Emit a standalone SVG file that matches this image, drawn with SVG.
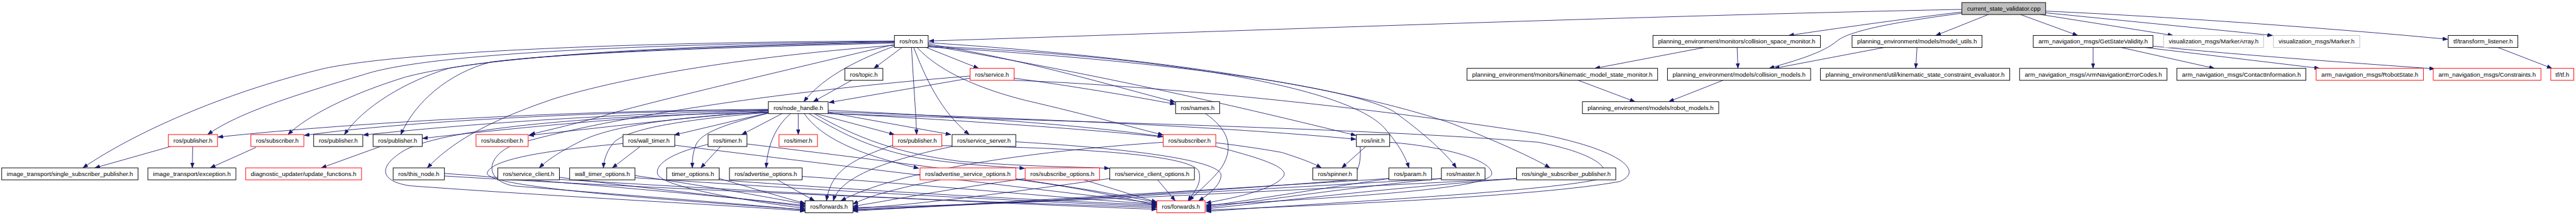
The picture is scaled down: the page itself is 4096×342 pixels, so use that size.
<svg xmlns="http://www.w3.org/2000/svg" width="4096" height="342" viewBox="0 0 4096 342">
<style>
.node rect{fill:#ffffff;stroke:#000000;stroke-width:1.4}
.node.red rect{stroke:#ff0000}
.node.gray rect{stroke:#bfbfbf}
.node.root rect{fill:#bfbfbf}
.node text{font-family:"Liberation Sans",Arial,sans-serif;font-size:14.5px;fill:#000000;text-anchor:middle}
#edges path{fill:none;stroke:#191970;stroke-width:1.25;marker-end:url(#arr)}
</style>
<defs>
<marker id="arr" markerUnits="userSpaceOnUse" viewBox="0 0 12 9" refX="12" refY="4.5" markerWidth="12" markerHeight="9" orient="auto">
<path d="M0,0 L12,4.5 L0,9 z" fill="#191970" stroke="#191970" stroke-width="0.8"/>
</marker>
</defs>
<rect width="4096" height="342" fill="#ffffff"/>
<g transform="scale(0.67949)">
<g id="edges">
<path d="M4591,22 C3800,38 2800,76 2174,96"/>
<path d="M4591,28 C4450,45 4300,66 4186,83"/>
<path d="M4591,31 C4430,52 4330,72 4300,95 C4265,125 4200,142 4140,160"/>
<path d="M4653,34 L4530,83"/>
<path d="M4728,34 L4862,83"/>
<path d="M4775,34 L5085,83"/>
<path d="M4787,30 L5318,83"/>
<path d="M4787,26 C5100,40 5500,70 5728,92"/>
<path d="M3989,111 L3732,160"/>
<path d="M4065,111 L4067,160"/>
<path d="M4410,111 L4152,160"/>
<path d="M4486,111 L4483,160"/>
<path d="M3693,188 L3826,238"/>
<path d="M4032,188 L3905,238"/>
<path d="M4898,111 L4898,160"/>
<path d="M4963,111 L5182,160"/>
<path d="M5018,111 L5428,160"/>
<path d="M5038,108 C5200,125 5400,140 5697,161"/>
<path d="M5845,111 L5972,160"/>
<path d="M2111,111 L2045,160"/>
<path d="M2093,108 C2020,135 1930,175 1881,238"/>
<path d="M2167,111 L2290,160"/>
<path d="M2133,111 C2138,200 2143,260 2145,315"/>
<path d="M2138,111 C2165,180 2200,260 2268,315"/>
<path d="M2172,103 C2400,140 2600,200 2750,239"/>
<path d="M2172,106 C2600,180 2900,250 3173,317"/>
<path d="M2172,108 C2700,130 3150,200 3240,300 C3275,340 3290,370 3297,393"/>
<path d="M2172,110 C2700,140 3150,200 3260,260 C3330,310 3385,360 3408,393"/>
<path d="M2172,100 C2800,140 3200,220 3400,290 C3500,330 3590,370 3627,393"/>
<path d="M2146,111 C2200,170 2300,210 2400,235 C2550,270 2650,298 2722,316"/>
<path d="M2093,106 C1800,128 1500,170 1300,230 C1150,280 1060,330 1000,393"/>
<path d="M2093,104 C1900,150 1600,220 1450,260 C1350,290 1280,305 1240,315"/>
<path d="M2093,101 C1700,110 1300,125 1150,145 C1050,170 970,240 938,315"/>
<path d="M2093,99 C1700,108 1250,123 1050,160 C950,190 850,250 806,315"/>
<path d="M2093,98 C1600,106 1150,128 950,180 C820,220 720,270 674,315"/>
<path d="M2093,97 C1500,103 1000,125 850,175 C700,220 560,262 486,315"/>
<path d="M2093,96 C1500,98 950,120 760,160 C550,210 330,300 194,393"/>
<path d="M1993,188 L1903,238"/>
<path d="M2270,183 L1940,240"/>
<path d="M2373,183 C2500,200 2650,225 2750,244"/>
<path d="M2270,178 C1800,215 1400,280 1200,340 C1140,365 1130,420 1200,435 C1500,460 1750,478 1884,492"/>
<path d="M2373,188 C2700,200 3200,250 3600,313 C3790,350 3850,400 3790,425 C3600,460 3100,480 2822,492"/>
<path d="M1868,266 L1868,315"/>
<path d="M1909,266 L2093,315"/>
<path d="M1938,263 L2225,315"/>
<path d="M1882,266 C1920,320 2000,360 2150,394"/>
<path d="M1893,266 C1980,320 2050,350 2150,370 C2250,385 2330,390 2398,394"/>
<path d="M1905,266 C2000,320 2100,360 2250,378 C2400,390 2500,390 2596,394"/>
<path d="M1938,258 C2300,275 2550,295 2721,320"/>
<path d="M1938,262 C2500,280 2900,300 3173,326"/>
<path d="M1938,265 C2400,290 2800,320 3000,357 C3040,370 3070,380 3092,393"/>
<path d="M1850,266 C1810,300 1795,350 1793,393"/>
<path d="M1830,266 L1736,315"/>
<path d="M1798,264 L1578,316"/>
<path d="M1798,265 C1700,290 1640,310 1628,340 C1620,360 1620,380 1620,393"/>
<path d="M1798,263 C1600,280 1480,300 1440,330 C1420,350 1413,375 1412,393"/>
<path d="M1798,262 C1550,275 1420,300 1360,330 C1310,355 1280,375 1262,393"/>
<path d="M1798,260 C1600,275 1400,300 1237,317"/>
<path d="M1798,259 C1500,270 1200,300 989,324"/>
<path d="M1798,258 C1400,268 1100,290 850,316"/>
<path d="M1798,257 C1300,263 900,290 712,317"/>
<path d="M1798,256 C1200,260 700,300 510,321"/>
<path d="M1798,264 C1400,268 1050,300 950,350 C880,390 890,425 960,435 C1300,460 1700,480 1884,494"/>
<path d="M1938,266 C2500,285 3200,300 3600,333 C3740,360 3780,400 3740,420 C3600,450 3100,475 2822,495"/>
<path d="M399,343 L222,393"/>
<path d="M451,343 L450,393"/>
<path d="M599,345 L492,393"/>
<path d="M890,343 L752,393"/>
<path d="M1498,343 L1433,393"/>
<path d="M1686,343 L1640,393"/>
<path d="M3196,343 L3140,393"/>
<path d="M1040,406 C1300,425 1650,455 1884,481"/>
<path d="M1309,415 C1500,440 1750,465 1884,484"/>
<path d="M1486,411 C1650,435 1800,462 1884,478"/>
<path d="M1683,418 C1760,440 1840,465 1884,476"/>
<path d="M1819,421 L1906,470"/>
<path d="M1657,338 C1560,360 1530,390 1540,410 C1560,440 1750,470 1884,488"/>
<path d="M1458,336 C1300,350 1150,370 1140,405 C1135,440 1600,470 1884,491"/>
<path d="M2089,340 C1990,375 1945,400 1934,470"/>
<path d="M2228,343 C2050,380 1965,420 1950,470"/>
<path d="M2722,333 C2400,355 2100,400 1968,470"/>
<path d="M2200,421 C2100,440 2030,460 1996,478"/>
<path d="M2400,418 C2200,445 2080,470 1996,483"/>
<path d="M2597,418 C2400,445 2150,480 1996,488"/>
<path d="M3183,343 C3185,380 3180,410 3150,422 C2800,450 2300,480 1996,492"/>
<path d="M3250,418 C2900,440 2400,470 1996,494"/>
<path d="M3373,418 C3000,440 2400,475 1996,490"/>
<path d="M3549,418 C3100,440 2500,475 1996,486"/>
<path d="M1040,412 C1500,440 2200,470 2707,486"/>
<path d="M1309,420 C1800,450 2300,475 2707,490"/>
<path d="M1486,416 C1900,445 2400,472 2707,483"/>
<path d="M1683,421 C2000,445 2400,468 2707,480"/>
<path d="M1877,413 C2200,435 2500,465 2707,478"/>
<path d="M1579,340 C1900,380 2400,440 2707,476"/>
<path d="M1748,337 C2100,380 2500,430 2707,474"/>
<path d="M2204,341 C2500,345 2780,360 2805,400 C2815,430 2790,455 2780,470"/>
<path d="M2377,332 C2600,345 2840,370 2857,407 C2860,430 2830,455 2805,470"/>
<path d="M2377,420 C2500,435 2620,460 2707,481"/>
<path d="M2536,421 C2600,440 2660,460 2707,473"/>
<path d="M2709,421 L2750,470"/>
<path d="M2821,266 C2870,300 2890,340 2860,390 C2840,420 2800,450 2783,470"/>
<path d="M2845,343 C2950,370 3010,390 3005,410 C2990,440 2900,462 2822,475"/>
<path d="M3252,333 C3400,345 3500,380 3490,410 C3470,440 3200,460 2822,480"/>
<path d="M3250,418 C3100,440 2950,465 2822,483"/>
<path d="M3373,418 C3150,440 2950,470 2822,486"/>
<path d="M3549,418 C3250,440 3000,470 2822,489"/>
</g>
<g id="n_cpp" class="node root"><rect x="4591" y="6" width="196" height="28"/><text x="4689" y="25" textLength="172" lengthAdjust="spacingAndGlyphs">current_state_validator.cpp</text></g>
<g id="n_ros" class="node"><rect x="2093" y="83" width="79" height="28"/><text x="2132.5" y="102" textLength="55" lengthAdjust="spacingAndGlyphs">ros/ros.h</text></g>
<g id="n_csm" class="node"><rect x="3868" y="83" width="392" height="28"/><text x="4064" y="102" textLength="368" lengthAdjust="spacingAndGlyphs">planning_environment/monitors/collision_space_monitor.h</text></g>
<g id="n_mu" class="node"><rect x="4334" y="83" width="304" height="28"/><text x="4486" y="102" textLength="280" lengthAdjust="spacingAndGlyphs">planning_environment/models/model_utils.h</text></g>
<g id="n_gsv" class="node"><rect x="4758" y="83" width="280" height="28"/><text x="4898" y="102" textLength="256" lengthAdjust="spacingAndGlyphs">arm_navigation_msgs/GetStateValidity.h</text></g>
<g id="n_ma" class="node gray"><rect x="5063" y="83" width="234" height="28"/><text x="5180" y="102" textLength="210" lengthAdjust="spacingAndGlyphs">visualization_msgs/MarkerArray.h</text></g>
<g id="n_mk" class="node gray"><rect x="5320" y="83" width="202" height="28"/><text x="5421" y="102" textLength="178" lengthAdjust="spacingAndGlyphs">visualization_msgs/Marker.h</text></g>
<g id="n_tfl" class="node"><rect x="5729" y="83" width="163" height="28"/><text x="5810.5" y="102" textLength="139" lengthAdjust="spacingAndGlyphs">tf/transform_listener.h</text></g>
<g id="n_topic" class="node"><rect x="1977" y="160" width="89" height="28"/><text x="2021.5" y="179" textLength="65" lengthAdjust="spacingAndGlyphs">ros/topic.h</text></g>
<g id="n_service" class="node red"><rect x="2270" y="160" width="103" height="28"/><text x="2321.5" y="179" textLength="79" lengthAdjust="spacingAndGlyphs">ros/service.h</text></g>
<g id="n_kmsm" class="node"><rect x="3433" y="160" width="446" height="28"/><text x="3656" y="179" textLength="422" lengthAdjust="spacingAndGlyphs">planning_environment/monitors/kinematic_model_state_monitor.h</text></g>
<g id="n_cm" class="node"><rect x="3902" y="160" width="335" height="28"/><text x="4069.5" y="179" textLength="311" lengthAdjust="spacingAndGlyphs">planning_environment/models/collision_models.h</text></g>
<g id="n_ksce" class="node"><rect x="4260" y="160" width="443" height="28"/><text x="4481.5" y="179" textLength="419" lengthAdjust="spacingAndGlyphs">planning_environment/util/kinematic_state_constraint_evaluator.h</text></g>
<g id="n_anec" class="node"><rect x="4726" y="160" width="345" height="28"/><text x="4898.5" y="179" textLength="321" lengthAdjust="spacingAndGlyphs">arm_navigation_msgs/ArmNavigationErrorCodes.h</text></g>
<g id="n_ci" class="node"><rect x="5094" y="160" width="302" height="28"/><text x="5245" y="179" textLength="278" lengthAdjust="spacingAndGlyphs">arm_navigation_msgs/ContactInformation.h</text></g>
<g id="n_rs" class="node red"><rect x="5420" y="160" width="251" height="28"/><text x="5545.5" y="179" textLength="227" lengthAdjust="spacingAndGlyphs">arm_navigation_msgs/RobotState.h</text></g>
<g id="n_con" class="node red"><rect x="5694" y="160" width="252" height="28"/><text x="5820" y="179" textLength="228" lengthAdjust="spacingAndGlyphs">arm_navigation_msgs/Constraints.h</text></g>
<g id="n_tf" class="node red"><rect x="5969" y="160" width="54" height="28"/><text x="5996" y="179" textLength="32" lengthAdjust="spacingAndGlyphs">tf/tf.h</text></g>
<g id="n_nh" class="node"><rect x="1798" y="238" width="140" height="28"/><text x="1868" y="257" textLength="116" lengthAdjust="spacingAndGlyphs">ros/node_handle.h</text></g>
<g id="n_names" class="node"><rect x="2751" y="238" width="103" height="28"/><text x="2802.5" y="257" textLength="79" lengthAdjust="spacingAndGlyphs">ros/names.h</text></g>
<g id="n_rm" class="node"><rect x="3703" y="238" width="319" height="28"/><text x="3862.5" y="257" textLength="295" lengthAdjust="spacingAndGlyphs">planning_environment/models/robot_models.h</text></g>
<g id="n_pub1" class="node red"><rect x="394" y="315" width="115" height="28"/><text x="451.5" y="334" textLength="91" lengthAdjust="spacingAndGlyphs">ros/publisher.h</text></g>
<g id="n_sub1" class="node red"><rect x="587" y="315" width="124" height="28"/><text x="649" y="334" textLength="100" lengthAdjust="spacingAndGlyphs">ros/subscriber.h</text></g>
<g id="n_pub2" class="node"><rect x="734" y="315" width="115" height="28"/><text x="791.5" y="334" textLength="91" lengthAdjust="spacingAndGlyphs">ros/publisher.h</text></g>
<g id="n_pub3" class="node"><rect x="873" y="315" width="115" height="28"/><text x="930.5" y="334" textLength="91" lengthAdjust="spacingAndGlyphs">ros/publisher.h</text></g>
<g id="n_sub2" class="node red"><rect x="1114" y="315" width="122" height="28"/><text x="1175" y="334" textLength="98" lengthAdjust="spacingAndGlyphs">ros/subscriber.h</text></g>
<g id="n_wt" class="node"><rect x="1458" y="315" width="121" height="28"/><text x="1518.5" y="334" textLength="97" lengthAdjust="spacingAndGlyphs">ros/wall_timer.h</text></g>
<g id="n_timer" class="node"><rect x="1657" y="315" width="91" height="28"/><text x="1702.5" y="334" textLength="67" lengthAdjust="spacingAndGlyphs">ros/timer.h</text></g>
<g id="n_timer2" class="node red"><rect x="1823" y="315" width="90" height="28"/><text x="1868" y="334" textLength="66" lengthAdjust="spacingAndGlyphs">ros/timer.h</text></g>
<g id="n_pub4" class="node red"><rect x="2089" y="315" width="115" height="28"/><text x="2146.5" y="334" textLength="91" lengthAdjust="spacingAndGlyphs">ros/publisher.h</text></g>
<g id="n_ss" class="node"><rect x="2228" y="315" width="149" height="28"/><text x="2302.5" y="334" textLength="125" lengthAdjust="spacingAndGlyphs">ros/service_server.h</text></g>
<g id="n_sub3" class="node red"><rect x="2722" y="315" width="123" height="28"/><text x="2783.5" y="334" textLength="99" lengthAdjust="spacingAndGlyphs">ros/subscriber.h</text></g>
<g id="n_init" class="node"><rect x="3174" y="315" width="78" height="28"/><text x="3213" y="334" textLength="54" lengthAdjust="spacingAndGlyphs">ros/init.h</text></g>
<g id="n_itssp" class="node"><rect x="4" y="393" width="319" height="28"/><text x="163.5" y="412" textLength="295" lengthAdjust="spacingAndGlyphs">image_transport/single_subscriber_publisher.h</text></g>
<g id="n_itexc" class="node"><rect x="346" y="393" width="206" height="28"/><text x="449" y="412" textLength="182" lengthAdjust="spacingAndGlyphs">image_transport/exception.h</text></g>
<g id="n_diag" class="node red"><rect x="575" y="393" width="271" height="28"/><text x="710.5" y="412" textLength="247" lengthAdjust="spacingAndGlyphs">diagnostic_updater/update_functions.h</text></g>
<g id="n_tn" class="node"><rect x="920" y="393" width="120" height="28"/><text x="980" y="412" textLength="96" lengthAdjust="spacingAndGlyphs">ros/this_node.h</text></g>
<g id="n_sc" class="node"><rect x="1165" y="393" width="144" height="28"/><text x="1237" y="412" textLength="120" lengthAdjust="spacingAndGlyphs">ros/service_client.h</text></g>
<g id="n_wto" class="node"><rect x="1333" y="393" width="153" height="28"/><text x="1409.5" y="412" textLength="129" lengthAdjust="spacingAndGlyphs">wall_timer_options.h</text></g>
<g id="n_to" class="node"><rect x="1560" y="393" width="123" height="28"/><text x="1621.5" y="412" textLength="99" lengthAdjust="spacingAndGlyphs">timer_options.h</text></g>
<g id="n_ao" class="node"><rect x="1707" y="393" width="170" height="28"/><text x="1792" y="412" textLength="146" lengthAdjust="spacingAndGlyphs">ros/advertise_options.h</text></g>
<g id="n_aso" class="node red"><rect x="2153" y="393" width="224" height="28"/><text x="2265" y="412" textLength="200" lengthAdjust="spacingAndGlyphs">ros/advertise_service_options.h</text></g>
<g id="n_so" class="node red"><rect x="2399" y="393" width="174" height="28"/><text x="2486" y="412" textLength="150" lengthAdjust="spacingAndGlyphs">ros/subscribe_options.h</text></g>
<g id="n_sco" class="node"><rect x="2597" y="393" width="198" height="28"/><text x="2696" y="412" textLength="174" lengthAdjust="spacingAndGlyphs">ros/service_client_options.h</text></g>
<g id="n_spin" class="node"><rect x="3072" y="393" width="104" height="28"/><text x="3124" y="412" textLength="80" lengthAdjust="spacingAndGlyphs">ros/spinner.h</text></g>
<g id="n_param" class="node"><rect x="3250" y="393" width="100" height="28"/><text x="3300" y="412" textLength="76" lengthAdjust="spacingAndGlyphs">ros/param.h</text></g>
<g id="n_master" class="node"><rect x="3373" y="393" width="102" height="28"/><text x="3424" y="412" textLength="78" lengthAdjust="spacingAndGlyphs">ros/master.h</text></g>
<g id="n_rssp" class="node"><rect x="3549" y="393" width="232" height="28"/><text x="3665" y="412" textLength="208" lengthAdjust="spacingAndGlyphs">ros/single_subscriber_publisher.h</text></g>
<g id="n_fwd1" class="node"><rect x="1884" y="470" width="112" height="28"/><text x="1940" y="489" textLength="88" lengthAdjust="spacingAndGlyphs">ros/forwards.h</text></g>
<g id="n_fwd2" class="node red"><rect x="2707" y="470" width="113" height="28"/><text x="2763.5" y="489" textLength="89" lengthAdjust="spacingAndGlyphs">ros/forwards.h</text></g>
</g>
</svg>
